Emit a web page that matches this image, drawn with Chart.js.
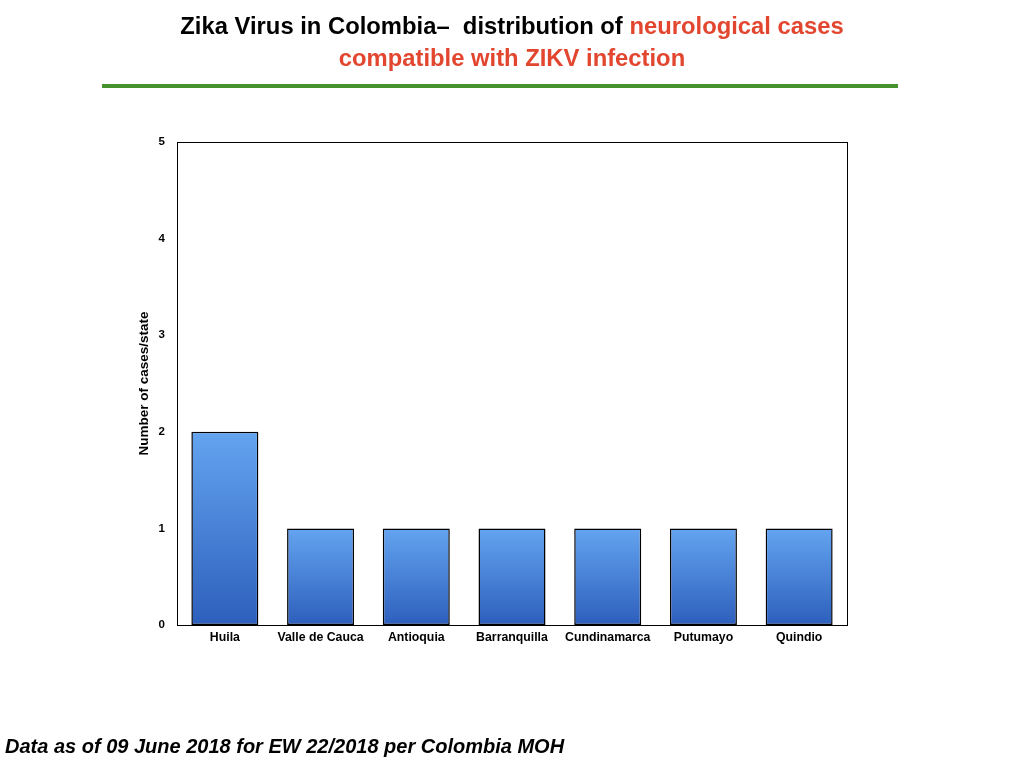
<!DOCTYPE html>
<html><head><meta charset="utf-8">
<script src="https://cdn.jsdelivr.net/npm/chart.js@4/dist/chart.umd.min.js"></script>
<style>
html,body{margin:0;padding:0;background:#fff;width:1024px;height:768px;overflow:hidden;font-family:"Liberation Sans",Arial,sans-serif;}
#wrap{position:absolute;left:0;top:0;width:1024px;height:768px;}
#title{position:absolute;left:0;top:10px;width:1024px;text-align:center;font-weight:bold;font-size:23.8px;line-height:32px;color:#000;}
#title .r{color:#e2462f;}
#rule{position:absolute;left:102px;top:84px;width:796px;height:4px;background:#46922f;}
#foot{position:absolute;left:5px;top:735px;font-weight:bold;font-style:italic;font-size:20px;color:#000;}
</style></head>
<body>
<div id="wrap"><canvas id="c" width="1024" height="768"></canvas></div>
<div id="title">Zika Virus in Colombia&#8211;&nbsp; distribution of <span class="r">neurological cases</span><br><span class="r">compatible with ZIKV infection</span></div>
<div id="rule"></div>
<div id="foot">Data as of 09 June 2018 for EW 22/2018 per Colombia MOH</div>
<script>
const categories = ["Huila","Valle de Cauca","Antioquia","Barranquilla","Cundinamarca","Putumayo","Quindio"];
const cases = [2,1,1,1,1,1,1];
const yTicks = [0,1,2,3,4,5];
const yTitle = "Number of cases/state";

function barFill(ctx){
  const chart = ctx.chart;
  const y = chart.scales && chart.scales.y;
  if(!chart.chartArea || !y || ctx.raw === undefined) return "#4a82d6";
  const top = y.getPixelForValue(ctx.raw);
  const bot = y.getPixelForValue(0);
  const g = chart.ctx.createLinearGradient(0, top, 0, bot);
  g.addColorStop(0, "#64a4f0");
  g.addColorStop(1, "#2d5fbc");
  return g;
}

new Chart(document.getElementById("c"), {
  type: "bar",
  data: { labels: categories, datasets: [{ data: cases, backgroundColor: barFill, borderColor: "#000", borderWidth: 1.5, borderSkipped: false, categoryPercentage: 1, barPercentage: 0.7 }] },
  options: {
    responsive: false, animation: false,
    layout: { padding: { left: 136, right: 177, top: 142, bottom: 113 } },
    plugins: { legend: { display: false }, tooltip: { enabled: false } },
    scales: {
      x: {
        grid: { display: false, drawTicks: false },
        border: { display: true, color: "#000", width: 1 },
        ticks: { color: "#000", font: { family: "Liberation Sans", weight: "bold", size: 12.3 }, padding: 5, maxRotation: 0, autoSkip: false },
        afterFit: s => { s.height = 30; }
      },
      y: {
        min: 0, max: 5,
        grid: { display: false, drawTicks: false },
        border: { display: true, color: "#000", width: 1 },
        afterBuildTicks: s => { s.ticks = yTicks.map(v => ({ value: v })); },
        ticks: { color: "#000", font: { family: "Liberation Sans", weight: "bold", size: 11.5 }, padding: 12 },
        title: { display: true, text: yTitle, color: "#000", font: { family: "Liberation Sans", weight: "bold", size: 13.5 }, padding: 0 },
        afterFit: s => { s.width = 41; }
      }
    }
  },
  plugins: [{
    id: "box",
    afterDraw(chart){
      const a = chart.chartArea, c = chart.ctx;
      c.save(); c.strokeStyle = "#000"; c.lineWidth = 1;
      c.strokeRect(Math.round(a.left)+0.5, Math.round(a.top)+0.5, Math.round(a.right-a.left), Math.round(a.bottom-a.top));
      c.restore();
    }
  }]
});
</script>
</body></html>
